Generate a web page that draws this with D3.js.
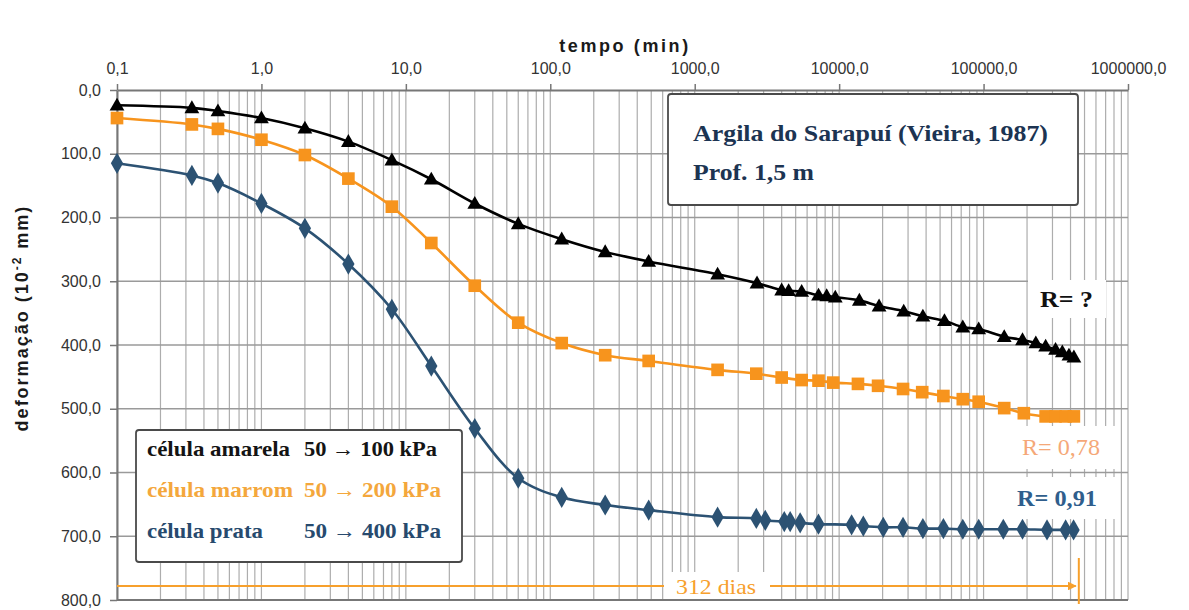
<!DOCTYPE html>
<html>
<head>
<meta charset="utf-8">
<script src="https://cdn.jsdelivr.net/npm/d3@7"></script>
<style>
  html, body { margin: 0; padding: 0; background: #fff; }
  svg { display: block; }
</style>
</head>
<body>
<svg id="chart" width="1189" height="610"></svg>
<script>
// Time (min) and settlement (10^-2 mm) readings for each cell
const tBlack = [0.1, 0.33, 0.5, 1, 2, 4, 8, 15, 30, 60, 120, 240, 480, 1440,
  2700, 4000, 4470, 5500, 7200, 8200, 9400, 13800, 18900, 28000, 38000, 53600,
  71800, 92500, 139000, 186000, 230000, 269000, 315000, 351000, 390000, 422000];
const dBlack = [24, 28, 33, 44, 60, 81, 110, 140, 178, 210, 234, 254, 269, 289,
  303, 314, 315, 316, 322, 323, 325, 330, 339, 347, 355, 362,
  372, 375, 387, 392, 397, 402, 407, 411, 416, 419];

const tOrange = [0.1, 0.33, 0.5, 1, 2, 4, 8, 15, 30, 60, 120, 240, 480, 1440,
  2670, 4000, 5500, 7200, 9100, 13500, 18600, 27700, 37600, 52700, 71800,
  92500, 139000, 190000, 269000, 315000, 370000, 422000];
const dOrange = [44, 54, 61, 78, 102, 139, 183, 240, 307, 365, 397, 416, 425, 439,
  445, 451, 455, 456, 459, 461, 464, 469, 474, 480, 485,
  489, 499, 507, 512, 512, 512, 512];

const tBlue = [0.1, 0.33, 0.5, 1, 2, 4, 8, 15, 30, 60, 120, 240, 480, 1440,
  2670, 3080, 4170, 4580, 5370, 7190, 12200, 14700, 20200, 27700, 38000, 52700,
  71800, 92500, 137000, 186000, 275000, 370000, 420000];
const dBlue = [115, 134, 146, 178, 217, 273, 344, 433, 531, 609, 639, 651, 659, 670,
  672, 675, 677, 677, 679, 681, 682, 684, 686, 686, 688, 688,
  689, 689, 689, 689, 690, 690, 690];

const xTicks = [0.1, 1, 10, 100, 1000, 10000, 100000, 1000000];
const yTicks = [0, 100, 200, 300, 400, 500, 600, 700, 800];

const legendRows = [
  { name: "célula amarela", load: "50 → 100 kPa", color: "#141414", w1: 143, w2: 133 },
  { name: "célula marrom",  load: "50 → 200 kPa", color: "#f4a73c", w1: 146, w2: 137 },
  { name: "célula prata",   load: "50 → 400 kPa", color: "#274a6e", w1: 116, w2: 137 }
];

const svg = d3.select("#chart");
const L = 117, R = 1128, T = 90, B = 600;

const x = d3.scaleLog().domain([0.1, 1000000]).range([L, R]);
const y = d3.scaleLinear().domain([0, 800]).range([T, B]);

const loc = d3.formatLocale({ decimal: ",", thousands: ".", grouping: [3], currency: ["", ""] });
const fmt = loc.format(".1f");
const sans = "'Liberation Sans', Arial, sans-serif";
const serif = "'Liberation Serif', 'Times New Roman', serif";

// grid
const minor = [];
for (let e = -1; e < 6; e++) for (let m = 1; m <= 9; m++) minor.push(m * Math.pow(10, e));
minor.push(1000000);
svg.append("g").selectAll("line").data(minor).join("line")
  .attr("x1", d => x(d)).attr("x2", d => x(d))
  .attr("y1", T).attr("y2", B)
  .attr("stroke", "#adadad").attr("stroke-width", 1.2);
svg.append("g").selectAll("line").data(yTicks.slice(1, -1)).join("line")
  .attr("x1", L).attr("x2", R)
  .attr("y1", d => y(d)).attr("y2", d => y(d))
  .attr("stroke", "#9a9a9a").attr("stroke-width", 1.6);

// axes
const topAxis = svg.append("g").attr("transform", `translate(0,${T})`)
  .call(d3.axisTop(x).tickValues(xTicks).tickFormat(fmt).tickSize(6).tickPadding(10).tickSizeOuter(0));
const leftAxis = svg.append("g").attr("transform", `translate(${L},0)`)
  .call(d3.axisLeft(y).tickValues(yTicks).tickFormat(fmt).tickSize(7).tickPadding(9).tickSizeOuter(0));
[topAxis, leftAxis].forEach(g => {
  g.select(".domain").attr("stroke", "#777").attr("stroke-width", 2);
  g.selectAll(".tick line").attr("stroke", "#777").attr("stroke-width", 1.5);
  g.selectAll(".tick text").attr("fill", "#333")
    .style("font-family", sans).style("font-size", "16px");
});
svg.append("line").attr("x1", L).attr("x2", R).attr("y1", B).attr("y2", B)
  .attr("stroke", "#777").attr("stroke-width", 2);

// axis titles
svg.append("text").attr("x", 625).attr("y", 52).attr("text-anchor", "middle")
  .style("font-family", sans).style("font-weight", "bold")
  .style("font-size", "18px").style("letter-spacing", "2.6px").attr("fill", "#1a1a1a")
  .text("tempo (min)");
const yt = svg.append("text").attr("transform", "translate(28,318) rotate(-90)")
  .attr("text-anchor", "middle")
  .style("font-family", sans).style("font-weight", "bold")
  .style("font-size", "18px").style("letter-spacing", "2px").attr("fill", "#1a1a1a");
yt.append("tspan").text("deformação (10");
yt.append("tspan").attr("dy", -7).style("font-size", "12px").text("-2");
yt.append("tspan").attr("dy", 7).text(" mm)");

// series
const series = [
  { t: tBlack, d: dBlack, color: "#000000", shape: "tri" },
  { t: tOrange, d: dOrange, color: "#f7941d", shape: "sq" },
  { t: tBlue, d: dBlue, color: "#2c5273", shape: "dia" }
];
const line = d3.line().x(p => x(p[0])).y(p => y(p[1])).curve(d3.curveCatmullRom.alpha(0.5));
const symbols = {
  tri: d3.symbol().type(d3.symbolTriangle).size(95),
  sq: d3.symbol().type(d3.symbolSquare).size(160),
  dia: d3.symbol().type(d3.symbolDiamond).size(130)
};
series.forEach(s => {
  const pts = s.t.map((t, i) => [t, s.d[i]]);
  svg.append("path").attr("d", line(pts)).attr("fill", "none")
    .attr("stroke", s.color).attr("stroke-width", 2.6);
  svg.append("g").selectAll("path").data(pts).join("path")
    .attr("transform", p => `translate(${x(p[0])},${y(p[1]) + (s.shape === "tri" ? 1 : 0)})`)
    .attr("d", symbols[s.shape]()).attr("fill", s.color);
});

// 312 days arrow
const arrowColor = "#f7a02c";
svg.append("defs").append("marker").attr("id", "ah").attr("viewBox", "0 0 10 10")
  .attr("refX", 9).attr("refY", 5).attr("markerWidth", 4).attr("markerHeight", 4)
  .attr("orient", "auto").append("path").attr("d", "M0,0L10,5L0,10z").attr("fill", arrowColor);
const tEnd = 312 * 1440;
svg.append("line").attr("x1", L).attr("x2", x(tEnd) - 2).attr("y1", 586).attr("y2", 586)
  .attr("stroke", arrowColor).attr("stroke-width", 2.2).attr("marker-end", "url(#ah)");
svg.append("line").attr("x1", x(tEnd) + 1).attr("x2", x(tEnd) + 1).attr("y1", 558).attr("y2", 604)
  .attr("stroke", arrowColor).attr("stroke-width", 2);
svg.append("rect").attr("x", 664).attr("y", 572).attr("width", 106).attr("height", 27).attr("fill", "#fff");
svg.append("text").attr("x", 676).attr("y", 594)
  .attr("textLength", 80).attr("lengthAdjust", "spacingAndGlyphs")
  .style("font-family", serif).style("font-size", "22px")
  .attr("fill", arrowColor).text("312 dias");

// R labels
svg.append("rect").attr("x", 1028).attr("y", 280).attr("width", 78).attr("height", 38).attr("fill", "#fff");
svg.append("rect").attr("x", 1012).attr("y", 426).attr("width", 106).attr("height", 43).attr("fill", "#fff");
svg.append("rect").attr("x", 1010).attr("y", 477).attr("width", 106).attr("height", 42).attr("fill", "#fff");
svg.append("text").attr("x", 1040).attr("y", 307).attr("textLength", 53).attr("lengthAdjust", "spacingAndGlyphs")
  .style("font-family", serif).style("font-weight", "bold")
  .style("font-size", "23px").attr("fill", "#111").text("R= ?");
svg.append("text").attr("x", 1022).attr("y", 455).attr("textLength", 78).attr("lengthAdjust", "spacingAndGlyphs")
  .style("font-family", serif)
  .style("font-size", "23px").attr("fill", "#f5a878").text("R= 0,78");
svg.append("text").attr("x", 1017).attr("y", 506).attr("textLength", 80).attr("lengthAdjust", "spacingAndGlyphs")
  .style("font-family", serif).style("font-weight", "bold")
  .style("font-size", "23px").attr("fill", "#2f5e8c").text("R= 0,91");

// title box
svg.append("rect").attr("x", 668).attr("y", 94).attr("width", 410).attr("height", 111).attr("rx", 3)
  .attr("fill", "#fff").attr("stroke", "#4a4a4a").attr("stroke-width", 1.8);
svg.append("text").attr("x", 693).attr("y", 141).attr("textLength", 355).attr("lengthAdjust", "spacingAndGlyphs")
  .style("font-family", serif).style("font-weight", "bold")
  .style("font-size", "24px").attr("fill", "#1c3452").text("Argila do Sarapuí (Vieira, 1987)");
svg.append("text").attr("x", 693).attr("y", 180).attr("textLength", 121).attr("lengthAdjust", "spacingAndGlyphs")
  .style("font-family", serif).style("font-weight", "bold")
  .style("font-size", "24px").attr("fill", "#1c3452").text("Prof. 1,5 m");

// legend
svg.append("rect").attr("x", 136).attr("y", 430).attr("width", 326).attr("height", 132).attr("rx", 3)
  .attr("fill", "#fff").attr("stroke", "#4a4a4a").attr("stroke-width", 1.8);
const lg = svg.append("g").selectAll("g").data(legendRows).join("g")
  .attr("transform", (d, i) => `translate(0,${456 + i * 41})`);
lg.append("text").attr("x", 147).attr("textLength", d => d.w1).attr("lengthAdjust", "spacingAndGlyphs")
  .style("font-family", serif).style("font-weight", "bold")
  .style("font-size", "21px").attr("fill", d => d.color).text(d => d.name);
lg.append("text").attr("x", 304).attr("textLength", d => d.w2).attr("lengthAdjust", "spacingAndGlyphs")
  .style("font-family", serif).style("font-weight", "bold")
  .style("font-size", "21px").attr("fill", d => d.color).text(d => d.load);
</script>
</body>
</html>
